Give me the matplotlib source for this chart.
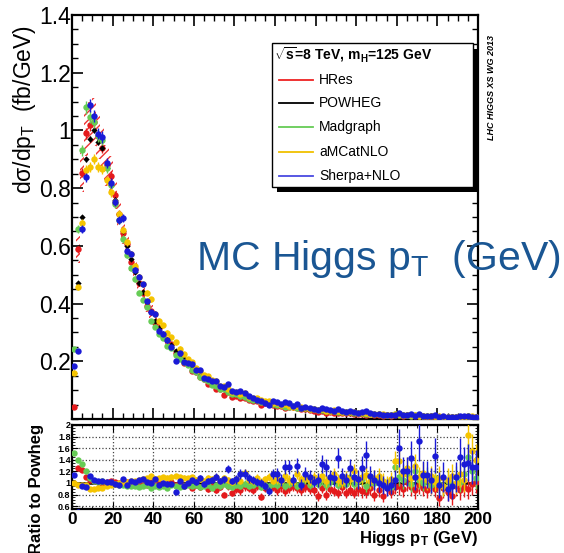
import numpy as np
import matplotlib
matplotlib.use('Agg')
import matplotlib.pyplot as plt
from matplotlib.ticker import MultipleLocator, FixedLocator, NullFormatter, FuncFormatter
from matplotlib.patches import Rectangle
from matplotlib.lines import Line2D

plt.rcParams['font.family'] = ['Liberation Sans', 'DejaVu Sans']
plt.rcParams['mathtext.fontset'] = 'custom'
plt.rcParams['mathtext.rm'] = 'Liberation Sans'
plt.rcParams['mathtext.it'] = 'Liberation Sans:italic'
plt.rcParams['mathtext.bf'] = 'Liberation Sans:bold'
plt.rcParams['hatch.linewidth'] = 1.0

# ---------------- data ----------------
pt_centers = np.arange(1, 200, 2)  # 2 GeV bins

powheg = [0.16, 0.47, 0.70, 0.90, 0.97, 1.00, 0.96, 0.94, 0.87, 0.81,
          0.76, 0.71, 0.65, 0.60, 0.555, 0.51, 0.47, 0.44, 0.405, 0.37,
          0.34, 0.315, 0.295, 0.275, 0.255, 0.237, 0.222, 0.207, 0.193, 0.180,
          0.168, 0.156, 0.146, 0.136, 0.127, 0.119, 0.112, 0.105, 0.099, 0.093,
          0.088, 0.083, 0.078, 0.074, 0.070, 0.066, 0.063, 0.060, 0.057, 0.054,
          0.051, 0.048, 0.046, 0.044, 0.042, 0.040, 0.038, 0.036, 0.034, 0.033,
          0.031, 0.030, 0.028, 0.027, 0.026, 0.025, 0.024, 0.023, 0.022, 0.021,
          0.020, 0.019, 0.018, 0.0175, 0.017, 0.016, 0.0155, 0.015, 0.014, 0.0135,
          0.013, 0.0125, 0.012, 0.0115, 0.011, 0.0105, 0.010, 0.0097, 0.0093, 0.009,
          0.0087, 0.0083, 0.008, 0.0077, 0.0074, 0.0071, 0.0068, 0.0066, 0.0063, 0.0061]

ratio_hres = [0.25, 1.25, 1.22, 1.10, 1.05, 1.03, 1.02, 1.00, 1.01, 1.04,
              1.02, 1.00, 0.99, 1.01, 0.98, 1.02, 1.00, 0.99, 0.97, 1.01,
              0.98, 1.00, 0.97, 0.99, 1.02, 0.96, 1.00, 0.94, 0.98, 0.92,
              0.97, 0.93, 0.96, 0.90, 0.95, 0.88, 0.93, 0.80, 0.94, 0.82,
              0.90, 0.87, 0.94, 0.91, 0.88, 0.95, 0.76, 0.92, 0.90, 0.93,
              0.88, 0.94, 0.86, 0.91, 0.95, 0.91, 0.87, 0.93, 0.90, 0.88,
              0.78, 0.92, 0.79, 0.90, 0.86, 0.82, 0.93, 0.83, 0.88, 0.82,
              0.90, 0.86, 0.85, 0.92, 0.80, 0.88, 0.77, 0.91, 0.85, 0.93,
              0.95, 0.90, 1.02, 0.93, 0.87, 0.97, 0.92, 0.88, 0.96, 0.90,
              0.74, 0.92, 0.85, 0.77, 0.95, 0.88, 0.93, 0.90, 0.98, 1.02]

ratio_madgraph = [1.52, 1.40, 1.33, 1.20, 1.08, 1.03, 1.02, 1.03, 1.00, 1.00,
                  0.98, 0.97, 0.96, 0.95, 0.94, 0.95, 0.93, 0.94, 0.96, 0.92,
                  0.94, 0.93, 0.95, 0.92, 0.96, 0.94, 0.93, 0.95, 0.97, 0.94,
                  0.96, 0.93, 0.95, 0.97, 0.92, 0.96, 0.94, 0.98, 0.95, 0.93,
                  0.97, 0.95, 0.99, 0.94, 0.96, 1.00, 0.93, 0.97, 0.95, 0.98,
                  0.96, 1.02, 0.94, 0.98, 1.04, 0.95, 1.00, 1.06, 0.97, 1.03,
                  0.99, 1.05, 0.96, 1.01, 1.08, 0.97, 1.04, 0.99, 1.10, 0.98,
                  1.03, 1.07, 0.95, 1.02, 1.00, 1.06, 0.96, 0.98, 0.93, 1.28,
                  1.10, 1.05, 1.15, 0.98, 1.20, 1.05, 1.00, 1.12, 0.96, 1.08,
                  0.98, 0.94, 1.04, 0.99, 1.10, 1.02, 1.15, 1.45, 1.20, 1.08]

ratio_amcatnlo = [1.00, 0.97, 0.97, 0.96, 0.90, 0.90, 0.91, 0.92, 0.95, 0.97,
                  0.99, 1.00, 1.01, 1.02, 1.03, 1.04, 1.05, 1.06, 1.08, 1.12,
                  1.07, 1.08, 1.10, 1.09, 1.11, 1.12, 1.10, 1.09, 1.08, 1.10,
                  1.05, 1.07, 1.04, 1.09, 1.06, 1.10, 1.03, 1.08, 1.05, 1.02,
                  1.06, 1.04, 1.17, 1.05, 1.03, 1.08, 1.02, 1.06, 1.10, 1.04,
                  1.07, 1.03, 1.12, 1.05, 1.02, 1.15, 1.06, 1.08, 1.03, 1.10,
                  1.06, 1.12, 1.04, 1.09, 1.15, 1.05, 1.02, 1.10, 1.07, 1.20,
                  1.05, 1.10, 1.14, 1.03, 1.08, 1.12, 1.04, 1.00, 1.06, 1.37,
                  1.37, 1.15, 1.25, 1.08, 1.30, 1.10, 1.18, 1.05, 1.12, 1.02,
                  1.08, 0.95, 1.05, 1.12, 1.00, 1.15, 1.05, 1.83, 1.55, 1.40]

ratio_sherpa = [1.14, 0.50, 0.94, 0.93, 1.12, 1.05, 1.03, 1.04, 1.02, 1.01,
                0.99, 0.97, 1.07, 0.97, 1.03, 1.01, 1.05, 1.06, 1.01, 1.00,
                1.07, 0.97, 1.00, 0.99, 0.98, 0.85, 1.03, 0.95, 1.00, 1.05,
                1.01, 1.08, 0.98, 1.03, 1.05, 1.11, 1.03, 1.06, 1.24, 1.04,
                1.06, 1.15, 1.15, 1.08, 1.05, 1.02, 1.00, 0.94, 0.86, 1.15,
                1.15, 1.05, 1.28, 1.28, 1.05, 1.30, 0.97, 1.16, 1.11, 1.02,
                1.05, 1.32, 1.27, 1.10, 1.08, 1.43, 1.12, 1.05, 1.26, 1.10,
                1.06, 1.26, 1.49, 1.12, 1.05, 1.00, 0.97, 0.92, 0.97, 1.05,
                1.60, 1.20, 1.20, 1.43, 1.10, 1.73, 1.14, 1.14, 1.05, 1.47,
                0.97, 1.11, 0.90, 0.95, 1.10, 1.44, 1.32, 1.35, 1.27, 1.27]

# relative statistical errors, one value per 20 GeV region
relerr_hres = [0.02, 0.02, 0.03, 0.05, 0.07, 0.08, 0.09, 0.11, 0.13, 0.15]
relerr_powheg = [0.01, 0.01, 0.02, 0.03, 0.04, 0.05, 0.06, 0.08, 0.10, 0.12]
relerr_madgraph = [0.02, 0.02, 0.02, 0.03, 0.04, 0.05, 0.06, 0.08, 0.10, 0.12]
relerr_amcatnlo = [0.02, 0.02, 0.03, 0.04, 0.05, 0.06, 0.08, 0.10, 0.12, 0.15]
relerr_sherpa = [0.02, 0.02, 0.03, 0.04, 0.06, 0.08, 0.10, 0.14, 0.18, 0.20]
# HRes scale-uncertainty band (relative half width), per 20 GeV region
band_hres = [0.08, 0.06, 0.06, 0.07, 0.08, 0.08, 0.09, 0.09, 0.10, 0.10]

names = ['HRes', 'POWHEG', 'Madgraph', 'aMCatNLO', 'Sherpa+NLO']
colors = ['#e41a1c', '#000000', '#66cc55', '#f5c400', '#1a1ad6']
legend_colors = ['#ee2222', '#000000', '#66cc55', '#f0c000', '#4a4ae0']

# ---------------- figure ----------------
W, H = 564, 553
fig = plt.figure(figsize=(W / 100, H / 100), dpi=100)
ax1 = fig.add_axes([72 / W, 1 - 419 / H, 406 / W, 404 / H])
ax2 = fig.add_axes([72 / W, 1 - 509 / H, 406 / W, 84 / H])

x = pt_centers
pw = np.array(powheg)
reg = lambda r: np.repeat(np.array(r), 10)

series = [
    (np.array(ratio_hres), reg(relerr_hres)),
    (np.ones(100), reg(relerr_powheg)),
    (np.array(ratio_madgraph), reg(relerr_madgraph)),
    (np.array(ratio_amcatnlo), reg(relerr_amcatnlo)),
    (np.array(ratio_sherpa), reg(relerr_sherpa)),
]

# HRes hatched band
hres_vals = pw * np.array(ratio_hres)
bw = reg(band_hres)
ax1.fill_between(x, hres_vals * (1 - bw), hres_vals * (1 + bw), step='mid',
                 facecolor='none', edgecolor='#ee3333', hatch='////', linewidth=0, zorder=1)

order = [0, 2, 3, 1, 4]
for i in order:
    r, e = series[i]
    vals = pw * r
    if i == 1:
        ax1.errorbar(x, vals, yerr=vals * e, fmt='D', color='black', ms=3.2, mew=0,
                     elinewidth=1.0, capsize=0, zorder=3 + i)
    else:
        ax1.errorbar(x, vals, yerr=vals * e, fmt='o', color=colors[i], ms=4.6, mew=0,
                     elinewidth=1.0, capsize=0, zorder=3 + i)

ax1.set_xlim(0, 200)
ax1.set_ylim(0, 1.4)
ax1.yaxis.set_major_locator(FixedLocator([0.2, 0.4, 0.6, 0.8, 1.0, 1.2, 1.4]))
ax1.yaxis.set_minor_locator(MultipleLocator(0.05))
ax1.yaxis.set_major_formatter(FuncFormatter(lambda v, p: '%g' % round(v, 2)))
ax1.xaxis.set_major_locator(MultipleLocator(20))
ax1.xaxis.set_minor_locator(MultipleLocator(5))
ax1.xaxis.set_major_formatter(NullFormatter())
ax1.tick_params(which='both', direction='in', top=True, right=True)
ax1.tick_params(which='major', length=8, width=1.2, labelsize=16.5, pad=1)
ax1.tick_params(which='minor', length=4, width=1.0)
for s in ax1.spines.values():
    s.set_linewidth(1.6)

# ratio panel
ax2.axhline(1.0, color='black', lw=1.8, zorder=2)
for i in [0, 2, 3, 4]:
    r, e = series[i]
    ax2.errorbar(x, r, yerr=r * np.sqrt(e ** 2 + reg(relerr_powheg) ** 2), fmt='o',
                 color=colors[i], ms=4.6, mew=0, elinewidth=1.0, capsize=0, zorder=3 + i)
ax2.set_xlim(0, 200)
ax2.set_ylim(0.55, 2.0)
ax2.yaxis.set_major_locator(FixedLocator([0.6, 0.8, 1.0, 1.2, 1.4, 1.6, 1.8, 2.0]))
ax2.yaxis.set_minor_locator(MultipleLocator(0.05))
ax2.yaxis.set_major_formatter(FuncFormatter(lambda v, p: '%g' % round(v, 2)))
ax2.xaxis.set_major_locator(MultipleLocator(20))
ax2.xaxis.set_minor_locator(MultipleLocator(5))
ax2.grid(True, which='major', linestyle=':', color='#444444', linewidth=0.9)
ax2.tick_params(which='both', direction='in', top=True, right=True)
ax2.tick_params(axis='y', which='major', length=4, labelsize=6.5, pad=1)
ax2.tick_params(axis='x', which='major', length=5, labelsize=12.5, pad=2)
ax2.tick_params(which='minor', length=2.5)
for lab in ax2.get_xticklabels() + ax2.get_yticklabels():
    lab.set_fontweight('bold')
for s in ax2.spines.values():
    s.set_linewidth(1.6)

# axis titles
fig.text(25 / W, 1 - 110 / H, 'd\u03c3/dp$_\\mathrm{T}$  (fb/GeV)', rotation=90,
         fontsize=16.5, ha='center', va='center')
fig.text(37 / W, 1 - 489 / H, 'Ratio to Powheg', rotation=90, fontsize=12,
         fontweight='bold', ha='center', va='center')
fig.text(478 / W, 1 - 538 / H, 'Higgs p$_\\mathbf{T}$ (GeV)', fontsize=12,
         fontweight='bold', ha='right', va='center')

# LHC tag
fig.text(492 / W, 1 - 88 / H, 'LHC HIGGS XS WG 2013', rotation=90, fontsize=6.5,
         fontweight='bold', fontstyle='italic', ha='center', va='center')

# legend (ROOT-style with black shadow)
def px(xp, yp):
    return (xp / W, 1 - yp / H)

fig.patches.append(Rectangle(px(277, 192), 200 / W, 143 / H, transform=fig.transFigure,
                             facecolor='black', edgecolor='none', zorder=10))
fig.patches.append(Rectangle(px(272, 187), 201 / W, 144 / H, transform=fig.transFigure,
                             facecolor='white', edgecolor='black', linewidth=1.0, zorder=11))
fig.text(274 / W, 1 - 55 / H, '$\\sqrt{\\mathbf{s}}$=8 TeV, m$_\\mathbf{H}$=125 GeV',
         fontsize=10, fontweight='bold', ha='left', va='center', zorder=12)
ys = [80, 103, 127, 152, 176]
for name, c, yp in zip(names, legend_colors, ys):
    fig.lines.append(Line2D([279 / W, 313 / W], [1 - yp / H, 1 - yp / H], color=c,
                            lw=1.3, transform=fig.transFigure, zorder=12))
    fig.text(319 / W, 1 - yp / H, name, fontsize=10, ha='left', va='center', zorder=12)

# overlay title
fig.text(196 / W, 1 - 259 / H, 'MC Higgs p$_\\mathrm{T}$  (GeV)', color='#1a5693',
         fontsize=29.5, ha='left', va='center', zorder=13)

fig.savefig('out.png', dpi=100)
